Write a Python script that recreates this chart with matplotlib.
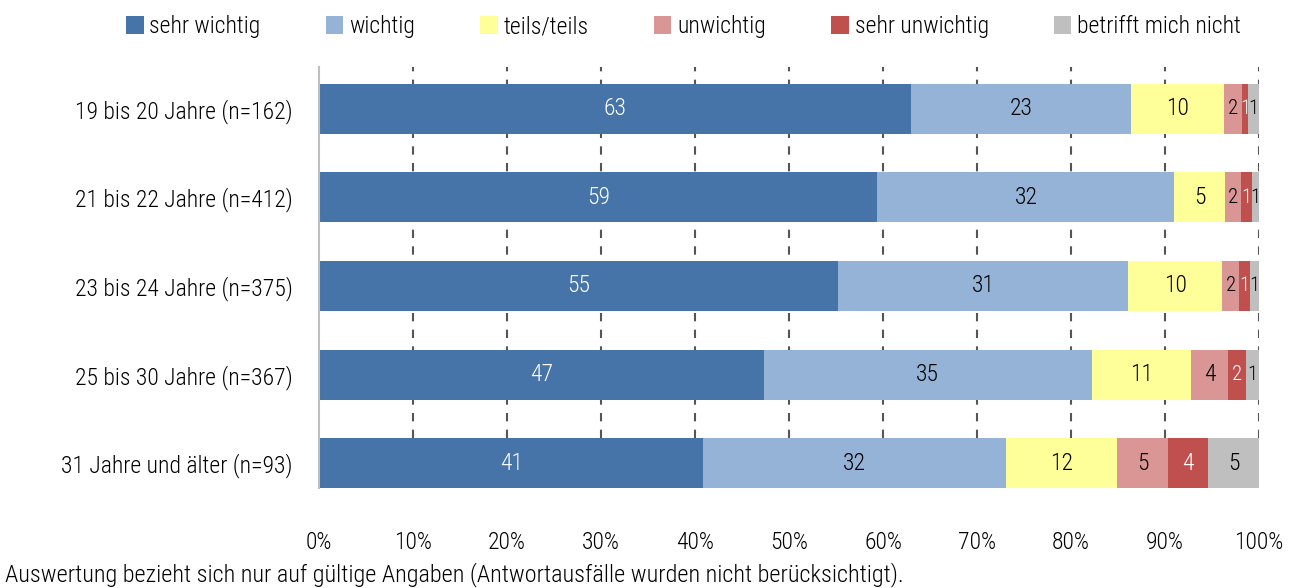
import matplotlib
matplotlib.use("Agg")
import numpy as np
import matplotlib.pyplot as plt

FONT = ['Roboto Condensed', 'Roboto', 'DejaVu Sans']
plt.rcParams['font.family'] = FONT
plt.rcParams['font.weight'] = 'light'

groups = ["19 bis 20 Jahre (n=162)", "21 bis 22 Jahre (n=412)", "23 bis 24 Jahre (n=375)",
          "25 bis 30 Jahre (n=367)", "31 Jahre und älter (n=93)"]
categories = ["sehr wichtig", "wichtig", "teils/teils", "unwichtig", "sehr unwichtig", "betrifft mich nicht"]

sehr_wichtig = [63.0, 59.4, 55.2, 47.3, 40.9]
wichtig = [23.4, 31.6, 30.9, 34.9, 32.2]
teils = [9.9, 5.4, 10.0, 10.6, 11.8]
unwichtig = [1.9, 1.7, 1.8, 3.9, 5.4]
sehr_unwichtig = [0.6, 1.2, 1.1, 1.9, 4.3]
betrifft_nicht = [1.2, 0.7, 1.0, 1.4, 5.4]

colors = ["#4674A8", "#95B3D7", "#FFFF99", "#D99694", "#C0504D", "#BFBFBF"]
text_colors = ["white", "black", "black", "black", "white", "black"]

series = [sehr_wichtig, wichtig, teils, unwichtig, sehr_unwichtig, betrifft_nicht]

fig = plt.figure(figsize=(12.97, 5.88), dpi=100)
ax = fig.add_axes([0.246, 0.170, 0.7247, 0.716])

y = np.arange(len(groups))
left = np.zeros(len(groups))
for vals, cat, col, tc in zip(series, categories, colors, text_colors):
    vals = np.array(vals)
    ax.barh(y, vals, left=left, height=0.565, color=col, label=cat, zorder=2)
    for yi, l, v in zip(y, left, vals):
        fs = 17 if v >= 2.5 else 15
        ax.text(l + v / 2, yi, str(int(round(v))), ha='center', va='center',
                color=tc, fontsize=fs, zorder=3)
    left += vals

ax.set_xlim(0, 100)
ax.set_ylim(4.28, -0.47)
ax.set_yticks(y)
ax.set_yticklabels(groups, fontsize=17)
ax.set_xticks(np.arange(0, 101, 10))
ax.set_xticklabels([f"{v}%" for v in range(0, 101, 10)], fontsize=17)
ax.tick_params(axis='both', length=0)
ax.tick_params(axis='x', pad=31)
ax.tick_params(axis='y', pad=19)

for x in range(10, 101, 10):
    ax.axvline(x, color="#555555", linestyle=(0, (4, 4)), linewidth=1.5, zorder=1)

for s in ['top', 'right', 'bottom']:
    ax.spines[s].set_visible(False)
ax.spines['left'].set_color("#BFBFBF")
ax.spines['left'].set_linewidth(1.5)

fig.legend(loc='upper center', bbox_to_anchor=(0.527, 1.01), ncol=6, frameon=False,
           fontsize=17, handlelength=0.75, handleheight=0.75, handletextpad=0.25,
           columnspacing=2.75)

fig.text(0.004, 0.022, "Auswertung bezieht sich nur auf gültige Angaben (Antwortausfälle wurden nicht berücksichtigt).",
         fontsize=17.5, ha='left', va='center')

fig.savefig("out.png", dpi=100)
